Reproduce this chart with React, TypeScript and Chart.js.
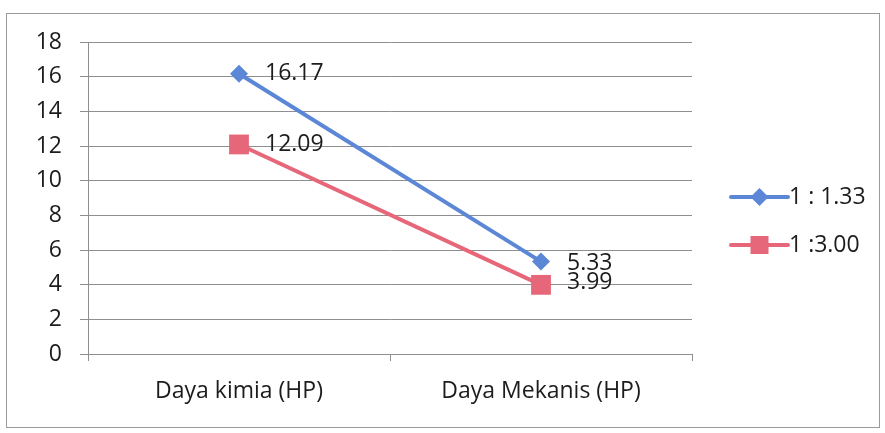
import React, { useEffect, useRef } from "react";
import { Chart, registerables } from "chart.js";

Chart.register(...registerables);

const categories = ["Daya kimia (HP)", "Daya Mekanis (HP)"];
const seriesA = [16.17, 5.33];
const seriesB = [12.09, 3.99];
const seriesLabels = ["1 : 1.33", "1 :3.00"];
const yTicks = [0, 2, 4, 6, 8, 10, 12, 14, 16, 18];

const BLUE = "#5b87d6";
const RED = "#e6677a";
const GRID = "#8e8e8e";
const TEXT = "#1c1c1c";
const FONT = "'Open Sans', Lato, sans-serif";
const FONT_SIZE = 23;

// Outer frame around the whole chart
const framePlugin = {
  id: "frame",
  beforeDraw(chart: any) {
    const ctx = chart.ctx;
    ctx.save();
    ctx.fillStyle = "#ffffff";
    ctx.fillRect(0, 0, chart.width, chart.height);
    ctx.strokeStyle = "#9a9a9a";
    ctx.lineWidth = 1;
    ctx.strokeRect(6.5, 13.5, 873, 414);
    ctx.restore();
  },
};

// Value labels to the right of each point
const valueLabelPlugin = {
  id: "valueLabels",
  afterDatasetsDraw(chart: any) {
    const ctx = chart.ctx;
    ctx.save();
    ctx.font = `${FONT_SIZE}px ${FONT}`;
    ctx.fillStyle = TEXT;
    ctx.textAlign = "left";
    ctx.textBaseline = "middle";
    chart.data.datasets.forEach((ds: any, i: number) => {
      const meta = chart.getDatasetMeta(i);
      meta.data.forEach((pt: any, j: number) => {
        const v = ds.data[j];
        let dy = 0;
        if (j === 1) dy = i === 0 ? 2 : -2;
        ctx.fillText(v.toFixed(2), pt.x + 26, pt.y + dy);
      });
    });
    ctx.restore();
  },
};

// Legend on the right: line with marker, then label
const legendPlugin = {
  id: "sideLegend",
  afterDraw(chart: any) {
    const ctx = chart.ctx;
    const x0 = 731;
    const x1 = 788;
    const ys = [197, 245];
    ctx.save();
    chart.data.datasets.forEach((ds: any, i: number) => {
      const y = ys[i];
      ctx.strokeStyle = ds.borderColor;
      ctx.lineWidth = 4;
      ctx.lineCap = "round";
      ctx.beginPath();
      ctx.moveTo(x0, y);
      ctx.lineTo(x1, y);
      ctx.stroke();
      const cx = (x0 + x1) / 2;
      ctx.fillStyle = ds.borderColor;
      ctx.beginPath();
      if (i === 0) {
        ctx.moveTo(cx, y - 9);
        ctx.lineTo(cx + 9, y);
        ctx.lineTo(cx, y + 9);
        ctx.lineTo(cx - 9, y);
        ctx.closePath();
      } else {
        ctx.rect(cx - 9, y - 9, 18, 18);
      }
      ctx.fill();
      ctx.font = `${FONT_SIZE}px ${FONT}`;
      ctx.fillStyle = TEXT;
      ctx.textAlign = "left";
      ctx.textBaseline = "middle";
      ctx.fillText(ds.label, x1 + 1, y);
    });
    ctx.restore();
  },
};

export default function App() {
  const ref = useRef<HTMLCanvasElement>(null);

  useEffect(() => {
    const chart = new Chart(ref.current!, {
      type: "line",
      data: {
        labels: categories,
        datasets: [
          {
            label: seriesLabels[0],
            data: seriesA,
            borderColor: BLUE,
            backgroundColor: BLUE,
            borderWidth: 4,
            pointStyle: "rectRot",
            pointRadius: 9,
            pointBorderWidth: 0,
            tension: 0,
          },
          {
            label: seriesLabels[1],
            data: seriesB,
            borderColor: RED,
            backgroundColor: RED,
            borderWidth: 4,
            pointStyle: "rect",
            pointRadius: 14,
            pointBorderWidth: 0,
            tension: 0,
          },
        ],
      },
      options: {
        responsive: false,
        animation: false,
        layout: { padding: { left: 0, right: 193, top: 42, bottom: 0 } },
        plugins: {
          legend: { display: false },
          tooltip: { enabled: false },
        },
        scales: {
          x: {
            offset: true,
            grid: {
              offset: true,
              drawOnChartArea: false,
              drawTicks: true,
              tickLength: 7,
              color: GRID,
            },
            border: { display: true, color: GRID },
            ticks: {
              color: TEXT,
              font: { family: FONT, size: FONT_SIZE },
              padding: 17,
            },
            afterFit: (s: any) => {
              s.height = 79;
            },
          },
          y: {
            min: 0,
            max: 18,
            afterBuildTicks: (s: any) => {
              s.ticks = yTicks.map((v) => ({ value: v }));
            },
            grid: {
              color: GRID,
              tickLength: 8,
              lineWidth: 1,
            },
            border: { display: true, color: GRID },
            ticks: {
              color: TEXT,
              font: { family: FONT, size: FONT_SIZE },
              padding: 18,
            },
            afterFit: (s: any) => {
              s.width = 88;
            },
          },
        },
      },
      plugins: [framePlugin, valueLabelPlugin, legendPlugin],
    });
    return () => chart.destroy();
  }, []);

  return (
    <div style={{ position: "fixed", left: 0, top: 0, width: 885, height: 433 }}>
      <canvas ref={ref} width={885} height={433} />
    </div>
  );
}
